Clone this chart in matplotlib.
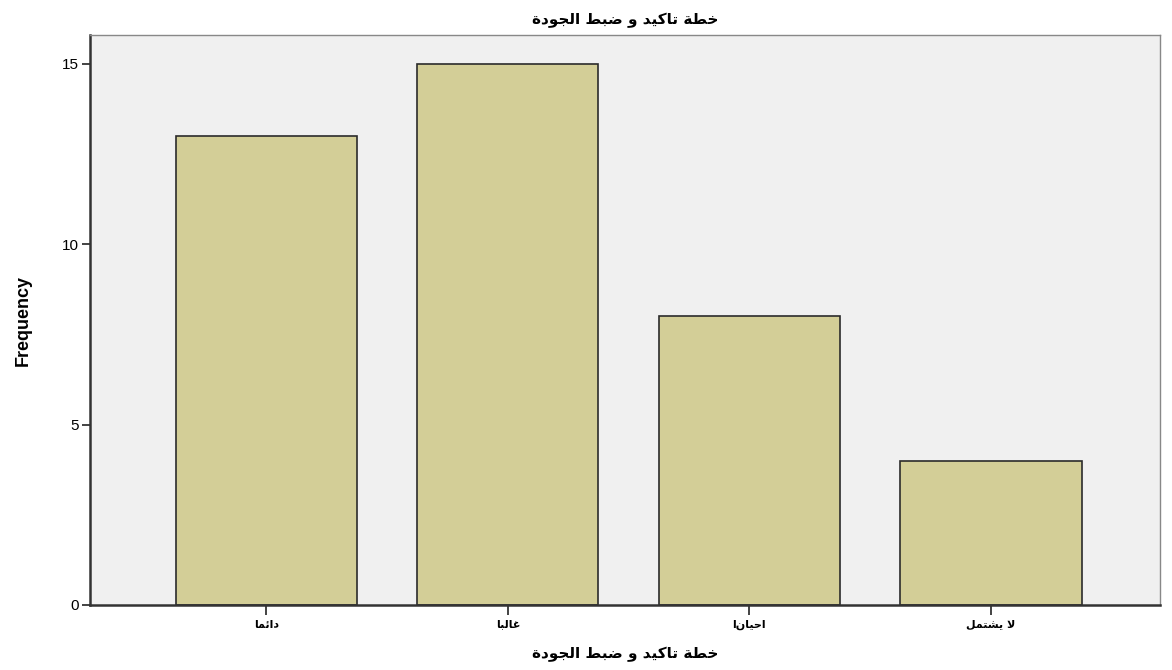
import matplotlib
matplotlib.use('Agg')
import matplotlib.pyplot as plt

title = 'خطة تاكيد و ضبط الجودة'
categories = ['دائما', 'غالبا', 'احيانا', 'لا يشتمل']
frequency = [13, 15, 8, 4]
yticks = [0, 5, 10, 15]

# presentation forms: isolated, final, initial, medial
FORMS = {
    'ا': (0xFE8D, 0xFE8E, None, None),
    'ب': (0xFE8F, 0xFE90, 0xFE91, 0xFE92),
    'ة': (0xFE93, 0xFE94, None, None),
    'ت': (0xFE95, 0xFE96, 0xFE97, 0xFE98),
    'ج': (0xFE9D, 0xFE9E, 0xFE9F, 0xFEA0),
    'ح': (0xFEA1, 0xFEA2, 0xFEA3, 0xFEA4),
    'خ': (0xFEA5, 0xFEA6, 0xFEA7, 0xFEA8),
    'د': (0xFEA9, 0xFEAA, None, None),
    'ش': (0xFEB5, 0xFEB6, 0xFEB7, 0xFEB8),
    'ض': (0xFEBD, 0xFEBE, 0xFEBF, 0xFEC0),
    'ط': (0xFEC1, 0xFEC2, 0xFEC3, 0xFEC4),
    'غ': (0xFECD, 0xFECE, 0xFECF, 0xFED0),
    'ك': (0xFED9, 0xFEDA, 0xFEDB, 0xFEDC),
    'ل': (0xFEDD, 0xFEDE, 0xFEDF, 0xFEE0),
    'م': (0xFEE1, 0xFEE2, 0xFEE3, 0xFEE4),
    'و': (0xFEED, 0xFEEE, None, None),
    'ي': (0xFEF1, 0xFEF2, 0xFEF3, 0xFEF4),
    'ئ': (0xFE89, 0xFE8A, 0xFE8B, 0xFE8C),
    'لا': (0xFEFB, 0xFEFC, None, None),
}


def shape(text):
    # join letters, then reverse for right-to-left display
    chars = []
    i = 0
    while i < len(text):
        if text[i:i + 2] == 'لا':
            chars.append('لا')
            i += 2
        else:
            chars.append(text[i])
            i += 1
    out = []
    for k, c in enumerate(chars):
        if c not in FORMS:
            out.append(c)
            continue
        f = FORMS[c]
        prev = chars[k - 1] if k > 0 else None
        nxt = chars[k + 1] if k + 1 < len(chars) else None
        join_prev = prev in FORMS and FORMS[prev][2] is not None
        join_next = f[2] is not None and nxt in FORMS
        if join_prev and join_next:
            code = f[3]
        elif join_prev:
            code = f[1]
        elif join_next:
            code = f[2]
        else:
            code = f[0]
        out.append(chr(code))
    return ''.join(out)[::-1]


plt.rcParams['font.family'] = ['Liberation Sans', 'DejaVu Sans']

fig = plt.figure(figsize=(11.72, 6.70), dpi=100)
ax = fig.add_axes([90 / 1172, 65 / 670, 1070 / 1172, 570 / 670])
ax.set_facecolor('#F0F0F0')

x = range(len(categories))
ax.bar(x, frequency, width=0.75, color='#D3CE97', edgecolor='#2b2b2b', linewidth=1.2, zorder=2)

ax.set_xlim(-0.73, 3.70)
ax.set_ylim(0, 15.8)
ax.set_yticks(yticks)
ax.set_yticklabels([str(v) for v in yticks], fontsize=11)
ax.set_xticks(list(x))
ax.set_xticklabels([shape(c) for c in categories], fontsize=8, fontweight='bold',
                   family=['DejaVu Sans'])
ax.tick_params(axis='y', length=6, width=1.2, color='#222222', pad=2)
ax.tick_params(axis='x', length=7, width=1.2, color='#222222')

for side in ['left', 'bottom']:
    ax.spines[side].set_linewidth(1.8)
    ax.spines[side].set_color('#333333')
for side in ['top', 'right']:
    ax.spines[side].set_linewidth(1.0)
    ax.spines[side].set_color('#888888')

ax.set_ylabel('Frequency', fontsize=13, fontweight='bold', labelpad=22)
ax.set_xlabel(shape(title), fontsize=11, fontweight='bold', labelpad=12,
              family=['DejaVu Sans'])
ax.set_title(shape(title), fontsize=11, fontweight='bold', pad=8,
             family=['DejaVu Sans'])

fig.savefig('out.png', dpi=100)
